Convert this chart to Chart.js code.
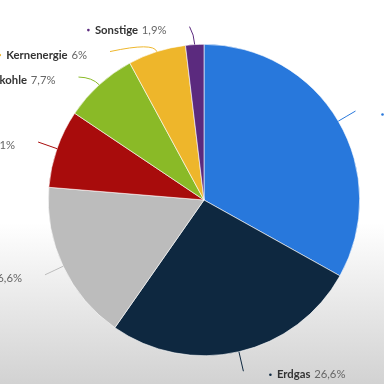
<!DOCTYPE html>
<html>
<head>
<meta charset="utf-8">
<script src="https://cdn.jsdelivr.net/npm/chart.js@4.4.1/dist/chart.umd.min.js"></script>
<style>
  html, body { margin: 0; padding: 0; }
  body {
    width: 384px; height: 384px; overflow: hidden;
    background: linear-gradient(to bottom, #ffffff 0%, #ffffff 58%, #d2d2d2 100%);
  }
  canvas { display: block; }
</style>
</head>
<body>
<canvas id="c" width="384" height="384"></canvas>
<script>
const categories = ['Mineralöl', 'Erdgas', 'Erneuerbare', 'Braunkohle', 'Steinkohle', 'Kernenergie', 'Sonstige'];
const shares = [33.1, 26.6, 16.6, 8.1, 7.7, 6, 1.9];
const valueLabels = ['33,1%', '26,6%', '16,6%', '8,1%', '7,7%', '6%', '1,9%'];

const outerLabels = {
  id: 'outerLabels',
  afterDatasetsDraw(chart, args, opts) {
    const ctx = chart.ctx;
    const meta = chart.getDatasetMeta(0);
    const ds = chart.data.datasets[0];
    ctx.save();
    meta.data.forEach((arc, i) => {
      const p = arc.getProps(['x', 'y', 'startAngle', 'endAngle', 'outerRadius'], true);
      const mid = (p.startAngle + p.endAngle) / 2;
      const ux = Math.cos(mid), uy = Math.sin(mid);
      const r = p.outerRadius;
      const ex = p.x + r * ux, ey = p.y + r * uy;
      const left = ux < 0;
      const sign = left ? -1 : 1;
      let ax = ex + opts.distance * ux;
      let ay = ey + opts.distance * uy;
      const push = opts.push[i] || 0;
      if (Math.abs(push) > 4) {
        ay += push;
        const R = r + opts.distance;
        const dy = ay - p.y;
        ax = p.x + sign * Math.sqrt(Math.max(R * R - dy * dy, 0));
      } else {
        ay += push;
        ax += sign * Math.abs(push) * 2;
      }
      const cx = ex + opts.control * ux, cy = ey + opts.control * uy;
      const color = ds.backgroundColor[i];
      ctx.strokeStyle = color;
      ctx.lineWidth = 1;
      ctx.beginPath();
      ctx.moveTo(ex, ey);
      ctx.quadraticCurveTo(cx, cy, ax, ay);
      ctx.stroke();

      const ty = ay + opts.textDy;
      ctx.textBaseline = 'middle';
      ctx.textAlign = 'left';
      ctx.font = 'bold ' + opts.fontSize + 'px Lato';
      const name = chart.data.labels[i];
      const nameW = ctx.measureText(name).width;
      const spaceW = ctx.measureText(' ').width + 1;
      ctx.font = opts.fontSize + 'px Lato';
      const val = valueLabels[i];
      const valW = ctx.measureText(val).width;
      let nameX;
      if (left) {
        const xr = ax - opts.gapLeft;
        nameX = xr - valW - spaceW - nameW;
      } else {
        nameX = ax + opts.gapRight + opts.bulletGap;
      }
      ctx.fillStyle = color;
      ctx.beginPath();
      ctx.arc(nameX - opts.bulletGap, ty, 1.3, 0, Math.PI * 2);
      ctx.fill();
      ctx.font = 'bold ' + opts.fontSize + 'px Lato';
      ctx.fillStyle = '#333333';
      ctx.fillText(name, nameX, ty);
      ctx.font = opts.fontSize + 'px Lato';
      ctx.fillStyle = '#666666';
      ctx.fillText(val, nameX + nameW + spaceW, ty);
    });
    ctx.restore();
  }
};

new Chart(document.getElementById('c'), {
  type: 'pie',
  data: {
    labels: categories,
    datasets: [{
      data: shares,
      backgroundColor: ['#2878dc', '#0e2840', '#bcbcbc', '#a80c0c', '#8aba27', '#eeb62b', '#5b2a7e'],
      borderColor: '#ffffff',
      borderWidth: 0.6
    }]
  },
  options: {
    responsive: false,
    animation: false,
    layout: { padding: { left: 48, right: 24, top: 44, bottom: 28 } },
    plugins: {
      legend: { display: false },
      tooltip: { enabled: false },
      outerLabels: {
        distance: 20, control: 10, push: [0, 0, 0, 0, 7, 19, 2],
        textDy: 3.5, gapLeft: 23, gapRight: 27, bulletGap: 6.5, fontSize: 11.3
      }
    }
  },
  plugins: [outerLabels]
});
</script>
</body>
</html>
